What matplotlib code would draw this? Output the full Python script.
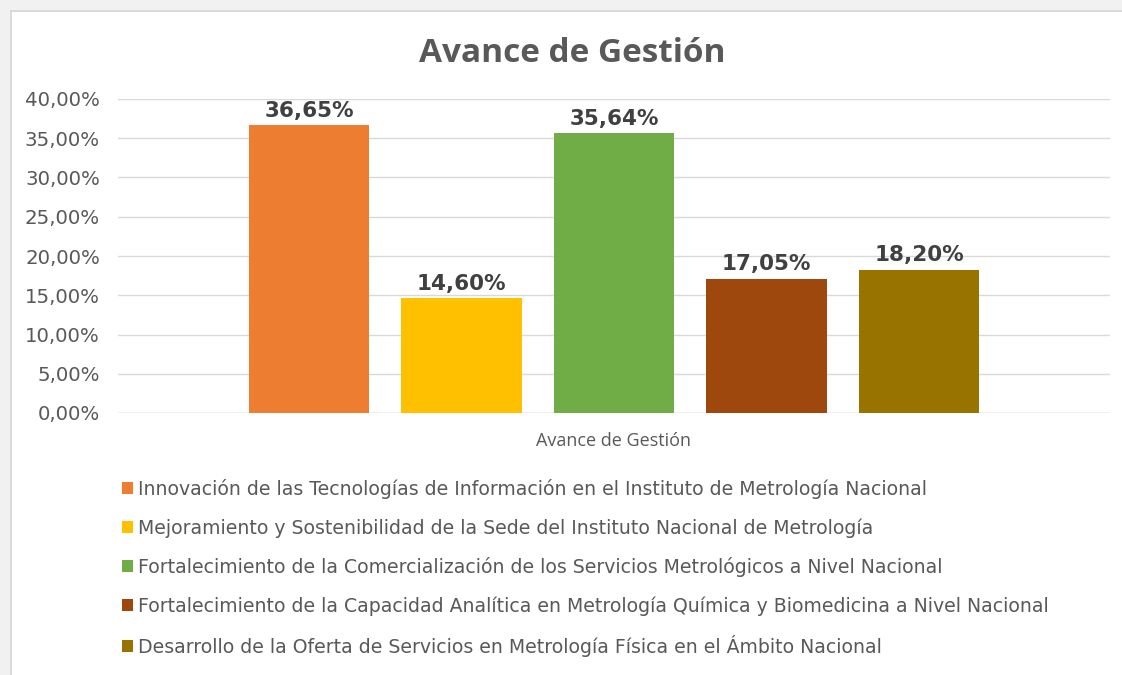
import matplotlib
matplotlib.use("Agg")
import matplotlib.pyplot as plt
from matplotlib.patches import Rectangle, Patch

title = "Avance de Gestión"
category = "Avance de Gestión"
series_names = [
    "Innovación de las Tecnologías de Información en el Instituto de Metrología Nacional",
    "Mejoramiento y Sostenibilidad de la Sede del Instituto Nacional de Metrología",
    "Fortalecimiento de la Comercialización de los Servicios Metrológicos a Nivel Nacional",
    "Fortalecimiento de la Capacidad Analítica en Metrología Química y Biomedicina a Nivel Nacional",
    "Desarrollo de la Oferta de Servicios en Metrología Física en el Ámbito Nacional",
]
values = [36.65, 14.60, 35.64, 17.05, 18.20]
colors = ["#ED7D31", "#FFC000", "#70AD47", "#9E480E", "#997300"]
yticks = [0, 5, 10, 15, 20, 25, 30, 35, 40]

W, H = 1122, 675
fig = plt.figure(figsize=(W / 100, H / 100), dpi=100)
fig.patch.set_facecolor("#f1f1f1")
# white chart area
fig.patches.append(Rectangle((12 / W, 0), 1 - 12 / W, 1 - 12 / H, transform=fig.transFigure,
                             facecolor="white", edgecolor="none", zorder=-5))
fig.lines.append(plt.Line2D([11 / W, 11 / W], [0, 1 - 11 / H], transform=fig.transFigure,
                            color="#d6d6d6", lw=1.2, zorder=-4))
fig.lines.append(plt.Line2D([11 / W, 1], [1 - 11 / H, 1 - 11 / H], transform=fig.transFigure,
                            color="#d6d6d6", lw=1.2, zorder=-4))

ax = fig.add_axes([118 / W, 1 - 413 / H, (1110 - 118) / W, (413 - 99) / H])
ax.set_facecolor("none")
ax.set_zorder(2)

step = 1.27
n = len(values)
xs = [(i - (n - 1) / 2) * step for i in range(n)]
for x, v, c in zip(xs, values, colors):
    ax.bar(x, v, width=1.0, color=c, zorder=3)
    ax.text(x, v + 0.6, f"{v:.2f}%".replace(".", ","), ha="center", va="bottom",
            fontsize=15.5, fontweight="bold", color="#404040", family="DejaVu Sans")

ax.set_xlim(-4.13, 4.13)
ax.set_ylim(0, 40)
ax.set_yticks(yticks)
ax.set_yticklabels([f"{t:.2f}%".replace(".", ",") for t in yticks], fontsize=14.2, color="#595959",
                   family="DejaVu Sans")
ax.tick_params(axis="y", length=0, pad=13)
ax.set_xticks([0])
ax.set_xticklabels([category], fontsize=13, color="#595959", family="Open Sans")
ax.tick_params(axis="x", length=0, pad=14)
ax.grid(axis="y", color="#d9d9d9", lw=1, zorder=0)
for s in ax.spines.values():
    s.set_visible(False)
ax.axhline(0, color="#d9d9d9", lw=1, zorder=2)

fig.text(572 / W, 1 - 53 / H, title, ha="center", va="center", fontsize=24, fontweight="bold",
         color="#595959", family="Open Sans")

handles = [Patch(facecolor=c, edgecolor="none") for c in colors]
leg = fig.legend(handles, series_names, loc="upper left", bbox_to_anchor=(122 / W, 1 - 479 / H),
                 frameon=False, fontsize=13.6, handlelength=0.6, handleheight=0.6,
                 handletextpad=0.25, labelspacing=1.02, borderaxespad=0, borderpad=0)
for t in leg.get_texts():
    t.set_color("#595959")
    t.set_family("DejaVu Sans")

fig.savefig("out.png", dpi=100, facecolor=fig.get_facecolor())
